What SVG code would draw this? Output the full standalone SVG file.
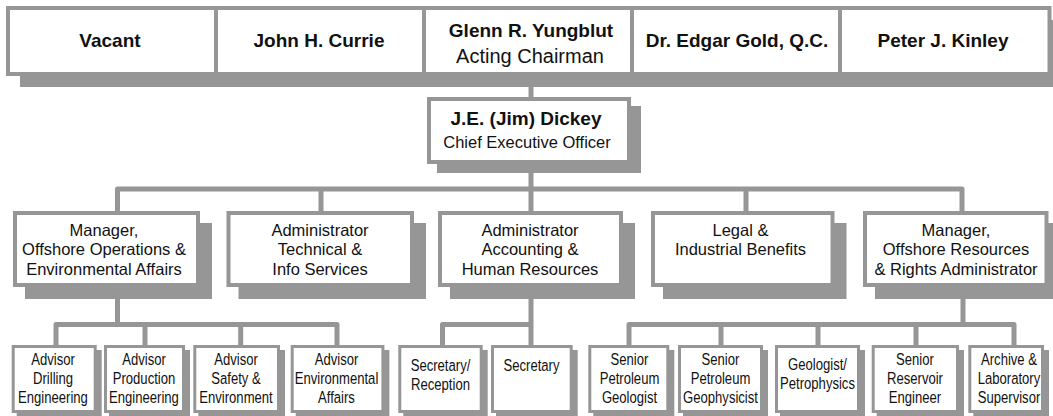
<svg xmlns="http://www.w3.org/2000/svg" width="1053" height="416" viewBox="0 0 1053 416">
<style>
.sh{fill:#969696}
.bx{fill:#fff;stroke:#969696;stroke-width:4}
.bs{fill:#fff;stroke:#969696;stroke-width:3}
.cn{fill:none;stroke:#969696;stroke-width:5;stroke-linejoin:round}
text{font-family:"Liberation Sans",Arial,Helvetica,sans-serif;text-anchor:middle;fill:#111}
.tb{font-weight:bold;font-size:19px}
.tr{font-size:20px}
.tc{font-size:16.5px}
.tm{font-size:16.5px}
.ts{font-size:17px}
</style>
<rect width="1053" height="416" fill="#fff"/>
<g id="connectors">
<path class="cn" d="M531 74V99"/>
<path class="cn" d="M531 164V211M117.5 211V189H962V211M321 189V211M746 189V211"/>
<path class="cn" d="M117.5 287V324.5M56 346V324.5H337V346M145 324.5V346M240.7 324.5V346"/>
<path class="cn" d="M531 287V346M442.5 346V324.5H531"/>
<path class="cn" d="M963 287V324.5M629 346V324.5H1014V346M721 324.5V346M818 324.5V346M916 324.5V346"/>
</g>
<rect id="board-shadow" class="sh" x="20" y="20" width="1040" height="67"/>
<g id="board-vacant"><rect class="bx" x="8" y="8" width="208" height="66"/><text class="tb" x="110" y="47">Vacant</text></g>
<g id="board-currie"><rect class="bx" x="216" y="8" width="208" height="66"/><text class="tb" x="319" y="47">John H. Currie</text></g>
<g id="board-yungblut"><rect class="bx" x="424" y="8" width="208" height="66"/><text class="tb" x="531" y="37">Glenn R. Yungblut</text><text class="tr" x="530" y="63">Acting Chairman</text></g>
<g id="board-gold"><rect class="bx" x="632" y="8" width="208" height="66"/><text class="tb" x="737" y="47">Dr. Edgar Gold, Q.C.</text></g>
<g id="board-kinley"><rect class="bx" x="840" y="8" width="209.5" height="66"/><text class="tb" x="943" y="47">Peter J. Kinley</text></g>
<g id="ceo"><rect class="sh" x="437" y="106" width="204" height="67"/><rect class="bx" x="429" y="99" width="200" height="63"/><text class="tb" x="526" y="125">J.E. (Jim) Dickey</text><text class="tc" x="527" y="148">Chief Executive Officer</text></g>
<g id="mgr-ops"><rect class="sh" x="25" y="223" width="187" height="76"/><rect class="bx" x="15" y="213" width="183" height="72"/><text class="tm"><tspan x="104" y="235.5">Manager,</tspan><tspan x="104" y="255">Offshore Operations &amp;</tspan><tspan x="104" y="274.5">Environmental Affairs</tspan></text></g>
<g id="adm-tech"><rect class="sh" x="238.5" y="223" width="187.5" height="76"/><rect class="bx" x="228.5" y="213" width="183.5" height="72"/><text class="tm"><tspan x="320" y="235.5">Administrator</tspan><tspan x="320" y="255">Technical &amp;</tspan><tspan x="320" y="274.5">Info Services</tspan></text></g>
<g id="adm-acct"><rect class="sh" x="450" y="223" width="185" height="76"/><rect class="bx" x="440" y="213" width="181" height="72"/><text class="tm"><tspan x="530" y="235.5">Administrator</tspan><tspan x="530" y="255">Accounting &amp;</tspan><tspan x="530" y="274.5">Human Resources</tspan></text></g>
<g id="legal"><rect class="sh" x="663" y="223" width="183.5" height="76"/><rect class="bx" x="653" y="213" width="179.5" height="72"/><text class="tm"><tspan x="740.5" y="235.5">Legal &amp;</tspan><tspan x="740.5" y="255">Industrial Benefits</tspan></text></g>
<g id="mgr-res"><rect class="sh" x="875" y="223" width="185.5" height="76"/><rect class="bx" x="865" y="213" width="181.5" height="72"/><text class="tm"><tspan x="956" y="235.5">Manager,</tspan><tspan x="956" y="255">Offshore Resources</tspan><tspan x="956" y="274.5">&amp; Rights Administrator</tspan></text></g>
<g id="adv-drill"><rect class="sh" x="16.7" y="350" width="85" height="68"/><rect class="bs" x="13.2" y="346.5" width="82" height="65"/><text class="ts" transform="translate(53 0) scale(0.77 1)"><tspan x="0" y="365">Advisor</tspan><tspan x="0" y="384.5">Drilling</tspan><tspan x="0" y="403.5">Engineering</tspan></text></g>
<g id="adv-prod"><rect class="sh" x="109" y="350" width="81" height="68"/><rect class="bs" x="105.5" y="346.5" width="78" height="65"/><text class="ts" transform="translate(144 0) scale(0.77 1)"><tspan x="0" y="365">Advisor</tspan><tspan x="0" y="384.5">Production</tspan><tspan x="0" y="403.5">Engineering</tspan></text></g>
<g id="adv-safety"><rect class="sh" x="198.3" y="350" width="86.7" height="68"/><rect class="bs" x="194.8" y="346.5" width="83.7" height="65"/><text class="ts" transform="translate(236 0) scale(0.77 1)"><tspan x="0" y="365">Advisor</tspan><tspan x="0" y="384.5">Safety &amp;</tspan><tspan x="0" y="403.5">Environment</tspan></text></g>
<g id="adv-env"><rect class="sh" x="295.7" y="350" width="93.7" height="68"/><rect class="bs" x="292.2" y="346.5" width="90.7" height="65"/><text class="ts" transform="translate(336.5 0) scale(0.77 1)"><tspan x="0" y="365">Advisor</tspan><tspan x="0" y="384.5">Environmental</tspan><tspan x="0" y="403.5">Affairs</tspan></text></g>
<g id="sec-reception"><rect class="sh" x="403.3" y="350" width="84.4" height="68"/><rect class="bs" x="399.8" y="346.5" width="81.4" height="65"/><text class="ts" transform="translate(440.5 0) scale(0.77 1)"><tspan x="0" y="371">Secretary/</tspan><tspan x="0" y="390">Reception</tspan></text></g>
<g id="secretary"><rect class="sh" x="496" y="350" width="81.7" height="68"/><rect class="bs" x="492.5" y="346.5" width="78.7" height="65"/><text class="ts" transform="translate(531.5 0) scale(0.77 1)"><tspan x="0" y="371">Secretary</tspan></text></g>
<g id="sr-geologist"><rect class="sh" x="593.3" y="350" width="81" height="68"/><rect class="bs" x="589.8" y="346.5" width="78" height="65"/><text class="ts" transform="translate(629.5 0) scale(0.77 1)"><tspan x="0" y="365">Senior</tspan><tspan x="0" y="384.5">Petroleum</tspan><tspan x="0" y="403.5">Geologist</tspan></text></g>
<g id="sr-geophysicist"><rect class="sh" x="683" y="350" width="85" height="68"/><rect class="bs" x="679.5" y="346.5" width="82" height="65"/><text class="ts" transform="translate(720.5 0) scale(0.77 1)"><tspan x="0" y="365">Senior</tspan><tspan x="0" y="384.5">Petroleum</tspan><tspan x="0" y="403.5">Geophysicist</tspan></text></g>
<g id="geo-petro"><rect class="sh" x="780" y="350" width="85" height="68"/><rect class="bs" x="776.5" y="346.5" width="82" height="65"/><text class="ts" transform="translate(817.5 0) scale(0.77 1)"><tspan x="0" y="370">Geologist/</tspan><tspan x="0" y="389">Petrophysics</tspan></text></g>
<g id="sr-reservoir"><rect class="sh" x="876.7" y="350" width="87.3" height="68"/><rect class="bs" x="873.2" y="346.5" width="84.3" height="65"/><text class="ts" transform="translate(915 0) scale(0.77 1)"><tspan x="0" y="365">Senior</tspan><tspan x="0" y="384.5">Reservoir</tspan><tspan x="0" y="403.5">Engineer</tspan></text></g>
<g id="archive-lab"><rect class="sh" x="973.3" y="350" width="75.7" height="68"/><rect class="bs" x="969.8" y="346.5" width="72.7" height="65"/><text class="ts" transform="translate(1009 0) scale(0.77 1)"><tspan x="0" y="365">Archive &amp;</tspan><tspan x="0" y="384.5">Laboratory</tspan><tspan x="0" y="403.5">Supervisor</tspan></text></g>
</svg>
